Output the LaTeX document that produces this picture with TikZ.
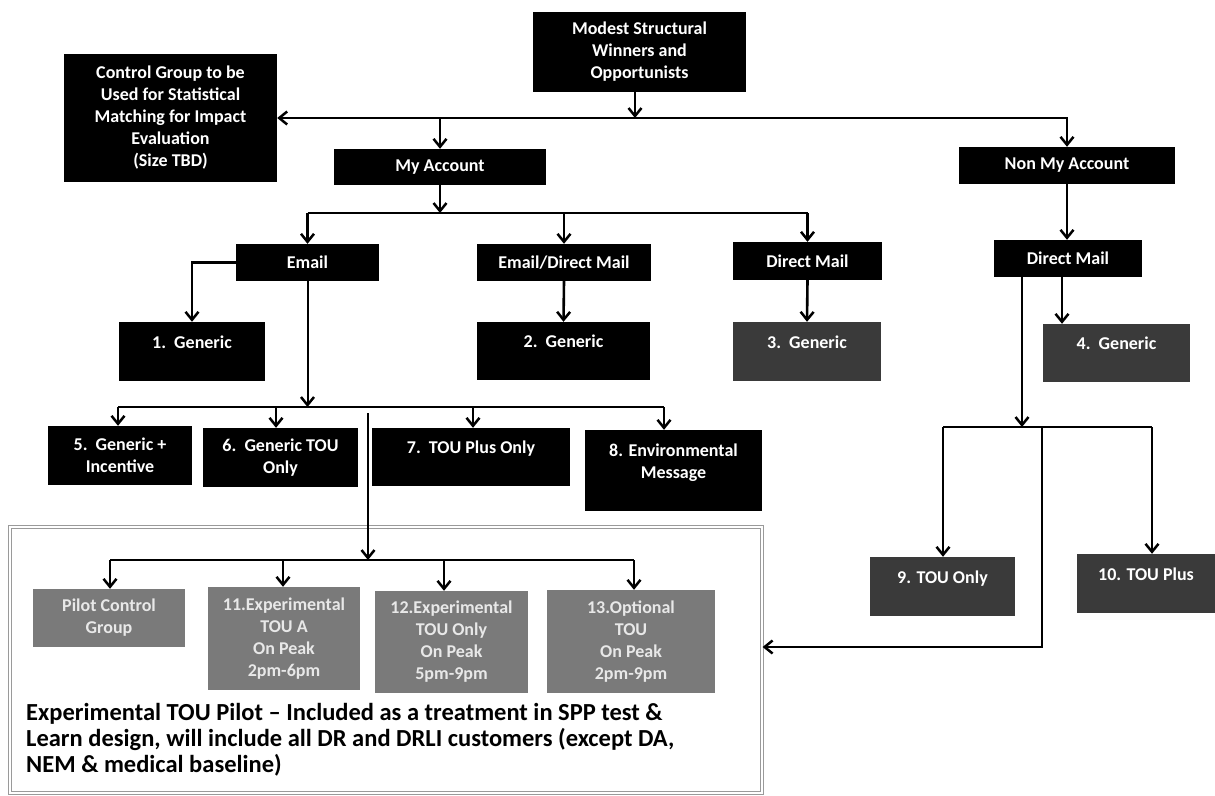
\documentclass[tikz,border=0pt]{standalone}
\usepackage{fontspec}
\setmainfont{Carlito}
\usetikzlibrary{arrows.meta}
\definecolor{dk}{HTML}{3A3A3A}
\definecolor{pg}{HTML}{7A7A7A}
\definecolor{ptx}{HTML}{E8E8E8}
\definecolor{fr}{HTML}{9A9A9A}
\newcommand\bxfont{\bfseries\fontsize{18}{22}\selectfont}
\newcommand\tl{\\[-9pt]\strut}
\begin{document}
\begin{tikzpicture}[x=1pt,y=-1pt,
  blk/.style={fill=black,text=white,inner sep=0pt,font=\bxfont,align=center},
  dkb/.style={blk,fill=dk},
  pbx/.style={blk,fill=pg,text=ptx},
  conn/.style={line width=2.6pt},
  thin/.style={line width=2pt},
  arr/.style={conn,-{Straight Barb[length=8pt,width=13pt,line width=2.5pt]}},
  tarr/.style={thin,-{Straight Barb[length=8pt,width=13pt,line width=2.5pt]}},
  frame/.style={draw=fr,double=white,line width=1.2pt,double distance=1.4pt,inner sep=0pt}]
\useasboundingbox (0,0) rectangle (1215,795);
% nodes
\node[blk,minimum width=213pt,minimum height=80pt] (modest) at (639.5,52) {Modest Structural\\Winners and\\Opportunists};
\node[blk,minimum width=213pt,minimum height=128pt] (control) at (170.5,118) {Control Group to be\\Used for Statistical\\Matching for Impact\\Evaluation\\(Size TBD)};
\node[blk,minimum width=212pt,minimum height=36pt] (myacc) at (440,167) {My Account};
\node[blk,minimum width=216pt,minimum height=37pt] (nonmy) at (1067,165.5) {Non My Account};
\node[blk,minimum width=143pt,minimum height=37pt] (email) at (307.5,262.5) {Email};
\node[blk,minimum width=174pt,minimum height=37pt] (edm) at (564,262.5) {Email/Direct Mail};
\node[blk,minimum width=149pt,minimum height=38pt] (dmm) at (807.5,261) {Direct Mail};
\node[blk,minimum width=148pt,minimum height=37pt] (dmr) at (1068,258.5) {Direct Mail};
\node[blk,minimum width=146pt,minimum height=59pt] (g1) at (192,351.5) {1.\ \ Generic\tl};
\node[blk,minimum width=173pt,minimum height=58pt] (g2) at (563.5,351) {2.\ \ Generic\tl};
\node[dkb,minimum width=148pt,minimum height=59pt] (g3) at (807,351.5) {3.\ \ Generic\tl};
\node[dkb,minimum width=147pt,minimum height=58pt] (g4) at (1116.5,353) {4.\ \ Generic\tl};
\node[blk,minimum width=144pt,minimum height=59pt] (b5) at (120,455.5) {5.\ \ Generic +\\Incentive};
\node[blk,minimum width=155pt,minimum height=59pt] (b6) at (280.5,457.5) {6.\ \ Generic TOU\\Only};
\node[blk,minimum width=198pt,minimum height=58pt] (b7) at (471,457) {7.\ \ TOU Plus Only\tl};
\node[blk,minimum width=177pt,minimum height=81pt] (b8) at (673.5,470.5) {8. Environmental\\Message\tl};
\node[frame,minimum width=752pt,minimum height=266pt] (pilot) at (386,660) {};
\node[pbx,minimum width=152pt,minimum height=58pt] (pcg) at (109,618) {Pilot Control\\Group};
\node[pbx,minimum width=152pt,minimum height=103pt] (p11) at (284,638.5) {11.Experimental\\TOU A\\On Peak\\2pm-6pm};
\node[pbx,minimum width=153pt,minimum height=102pt] (p12) at (451.5,642) {12.Experimental\\TOU Only\\On Peak\\5pm-9pm};
\node[pbx,minimum width=168pt,minimum height=103pt] (p13) at (631,641.5) {13.Optional\\TOU\\On Peak\\2pm-9pm};
\node[dkb,minimum width=145pt,minimum height=59pt] (t9) at (942.5,586.5) {9. TOU Only\tl};
\node[dkb,minimum width=138pt,minimum height=59pt] (t10) at (1146,583.5) {10. TOU Plus\tl};
\node[anchor=base west,align=left,inner sep=0pt,font=\bfseries\fontsize{24.5}{26}\selectfont] (ptxt) at (26,772)
 {Experimental TOU Pilot -- Included as a treatment in SPP test \&\\Learn design, will include all DR and DRLI customers (except DA,\\NEM \& medical baseline)};
% junction coordinates
\coordinate (jt) at (635,118);
\coordinate (jm) at (440,213);
\coordinate (jr) at (307.5,407);
\coordinate (r5) at (118,407);
\coordinate (r6) at (276,407);
\coordinate (r7) at (473,407);
\coordinate (r8) at (664,407);
\coordinate (pv) at (368,413);
\coordinate (pb) at (368,560);
\coordinate (pa) at (110,560);
\coordinate (p1) at (283,560);
\coordinate (p2) at (444,560);
\coordinate (pd) at (634,560);
\coordinate (g4a) at (1062,0);
\coordinate (rbl) at (943,427);
\coordinate (rbm) at (1022,427);
\coordinate (rbp) at (1042,427);
\coordinate (rbr) at (1152,427);
\coordinate (pe) at (1042,647);
% top level
\draw[arr] (modest.south -| jt) -- (jt);
\draw[arr] (jt) -- (control.east);
\draw[arr] (jt) -| (nonmy.north);
\draw[arr] (myacc.north |- jt) -- (myacc.north);
% my account level
\draw[arr] (myacc.south) -- (jm);
\draw[conn] (email.north |- jm) -- (dmm.north |- jm);
\draw[arr] (email.north |- jm) -- (email.north);
\draw[arr] (edm.north |- jm) -- (edm.north);
\draw[arr] (dmm.north |- jm) -- (dmm.north);
\draw[arr] (email.west) -| (g1.north);
\draw[arr] (edm.south) -- (g2.north);
\draw[arr] (dmm.south) -- (g3.north);
% email children
\draw[tarr] (email.south) -- (jr);
\draw[conn] (r5) -- (r8);
\draw[arr] (r5) -- (r5 |- b5.north);
\draw[arr] (r6) -- (r6 |- b6.north);
\draw[arr] (r7) -- (r7 |- b7.north);
\draw[arr] (r8) -- (r8 |- b8.north);
% pilot
\draw[tarr] (pv) -- (pb);
\draw[conn] (pa) -- (pd);
\draw[arr] (pa) -- (pa |- pcg.north);
\draw[arr] (p1) -- (p1 |- p11.north);
\draw[arr] (p2) -- (p2 |- p12.north);
\draw[arr] (pd) -- (pd |- p13.north);
% non my account
\draw[arr] (nonmy.south) -- (nonmy.south |- dmr.north);
\draw[arr] (dmr.south -| g4a) -- (g4.north -| g4a);
\draw[conn] (rbl) -- (rbr);
\draw[tarr] (dmr.south -| rbm) -- (rbm);
\draw[tarr] (rbl) -- (rbl |- t9.north);
\draw[tarr] (rbr) -- (rbr |- t10.north);
\draw[arr] (rbp) -- (pe) -- (pe -| pilot.east);
\end{tikzpicture}
\end{document}
